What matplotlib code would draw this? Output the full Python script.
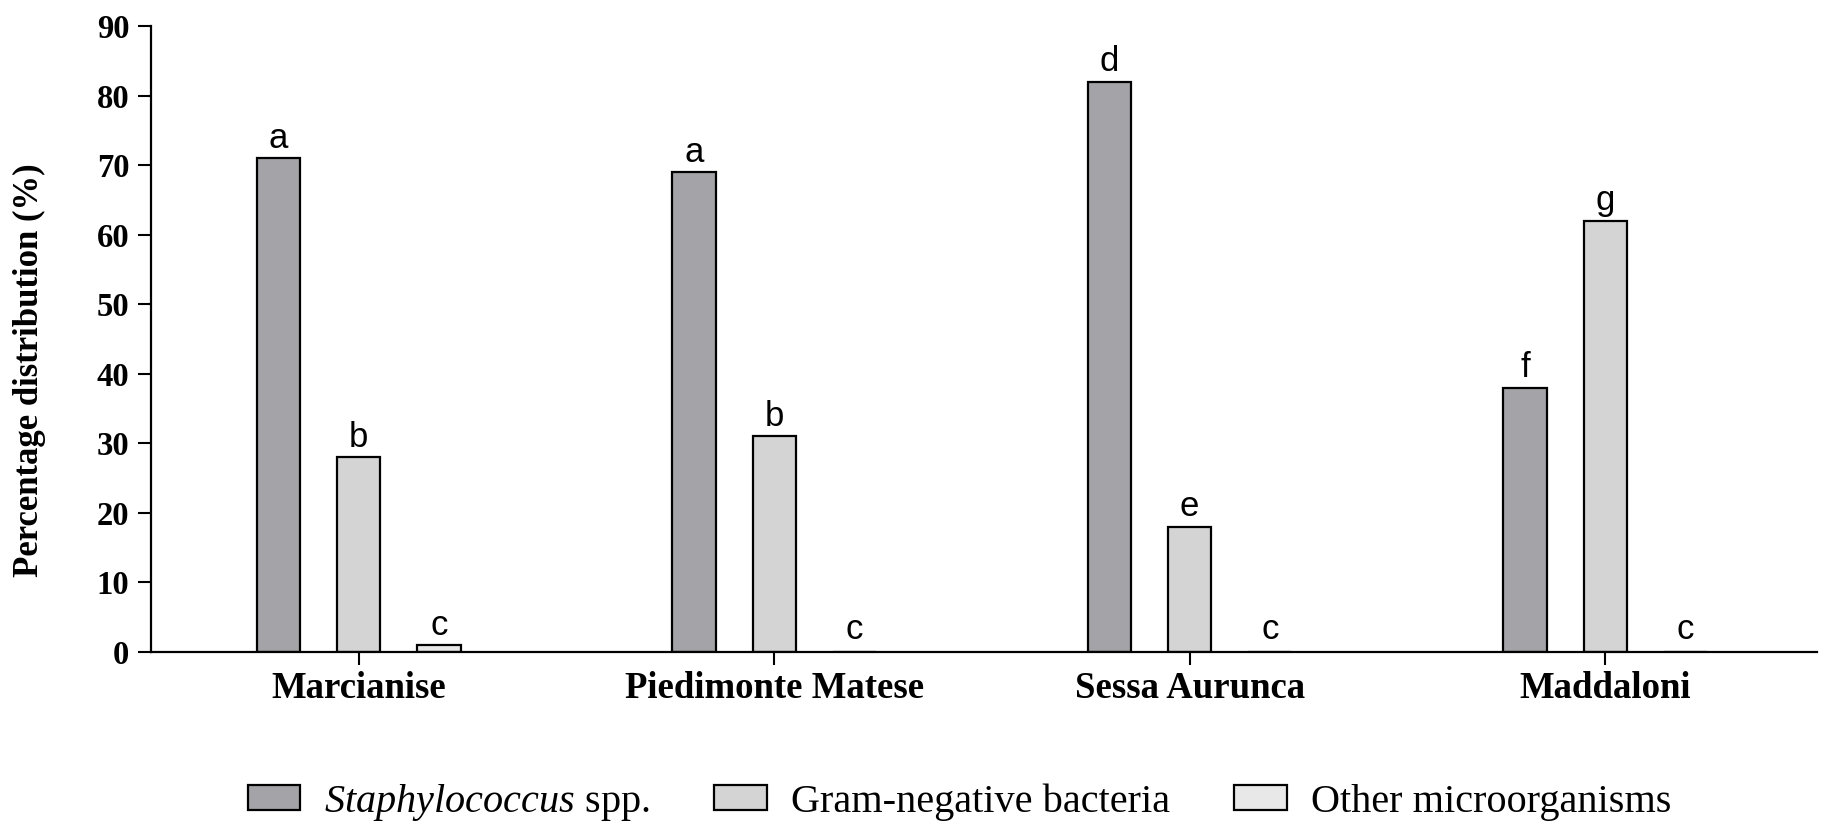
import numpy as np
import matplotlib
matplotlib.use("Agg")
import matplotlib.pyplot as plt

plt.rcParams["font.family"] = ["Liberation Serif", "DejaVu Serif"]
plt.rcParams["mathtext.fontset"] = "custom"
plt.rcParams["mathtext.rm"] = "Liberation Serif"
plt.rcParams["mathtext.it"] = "Liberation Serif:italic"

# data
sites = ["Marcianise", "Piedimonte Matese", "Sessa Aurunca", "Maddaloni"]
staph = [71, 69, 82, 38]
gram_neg = [28, 31, 18, 62]
other = [1, 0, 0, 0]
letters_staph = ["a", "a", "d", "f"]
letters_gram = ["b", "b", "e", "g"]
letters_other = ["c", "c", "c", "c"]
series_names = [r"$\it{Staphylococcus}$ spp.", "Gram-negative bacteria", "Other microorganisms"]
colors = ["#a3a3a8", "#d4d4d4", "#e8e8e8"]

fig = plt.figure(figsize=(18.31, 8.39), dpi=100)
ax = fig.add_axes([151 / 1831, 1 - 652 / 839, (1817 - 151) / 1831, (652 - 26) / 839])

x = np.arange(len(sites))
offset = 0.193
width = 0.104
groups = [staph, gram_neg, other]
group_letters = [letters_staph, letters_gram, letters_other]
for i, (vals, lets) in enumerate(zip(groups, group_letters)):
    xs = x + (i - 1) * offset
    ax.bar(xs, vals, width, color=colors[i], edgecolor="black", linewidth=1.6,
           label=series_names[i], zorder=2)
    for xi, v, t in zip(xs, vals, lets):
        ax.text(xi, v + (1.5 if v > 0 else 1.9), t, ha="center", va="baseline",
                fontsize=25, family=["Liberation Sans", "DejaVu Sans"])

ax.set_xlim(-0.5, 3.51)
ax.set_ylim(0, 90)
ax.set_yticks(np.arange(0, 91, 10))
ax.set_xticks(x)
ax.set_xticklabels(sites, fontsize=26.5, fontweight="bold")
for lab in ax.get_yticklabels():
    lab.set_fontweight("bold")
ax.tick_params(axis="y", labelsize=23.5, length=9.5, width=1.5, pad=6)
ax.tick_params(axis="x", length=9.5, width=1.5, pad=4)
for s in ["top", "right"]:
    ax.spines[s].set_visible(False)
for s in ["left", "bottom"]:
    ax.spines[s].set_linewidth(1.6)

fig.text(29 / 1831, 1 - 370 / 839, "Percentage distribution (%)", rotation=90,
         ha="center", va="center", fontsize=25, fontweight="bold")

fig.legend(loc="center", bbox_to_anchor=(0.524, 0.044), ncol=3, frameon=False,
           fontsize=29, handlelength=1.3, handleheight=0.6, handletextpad=0.6,
           columnspacing=1.6)

fig.savefig("out.png", dpi=100)
